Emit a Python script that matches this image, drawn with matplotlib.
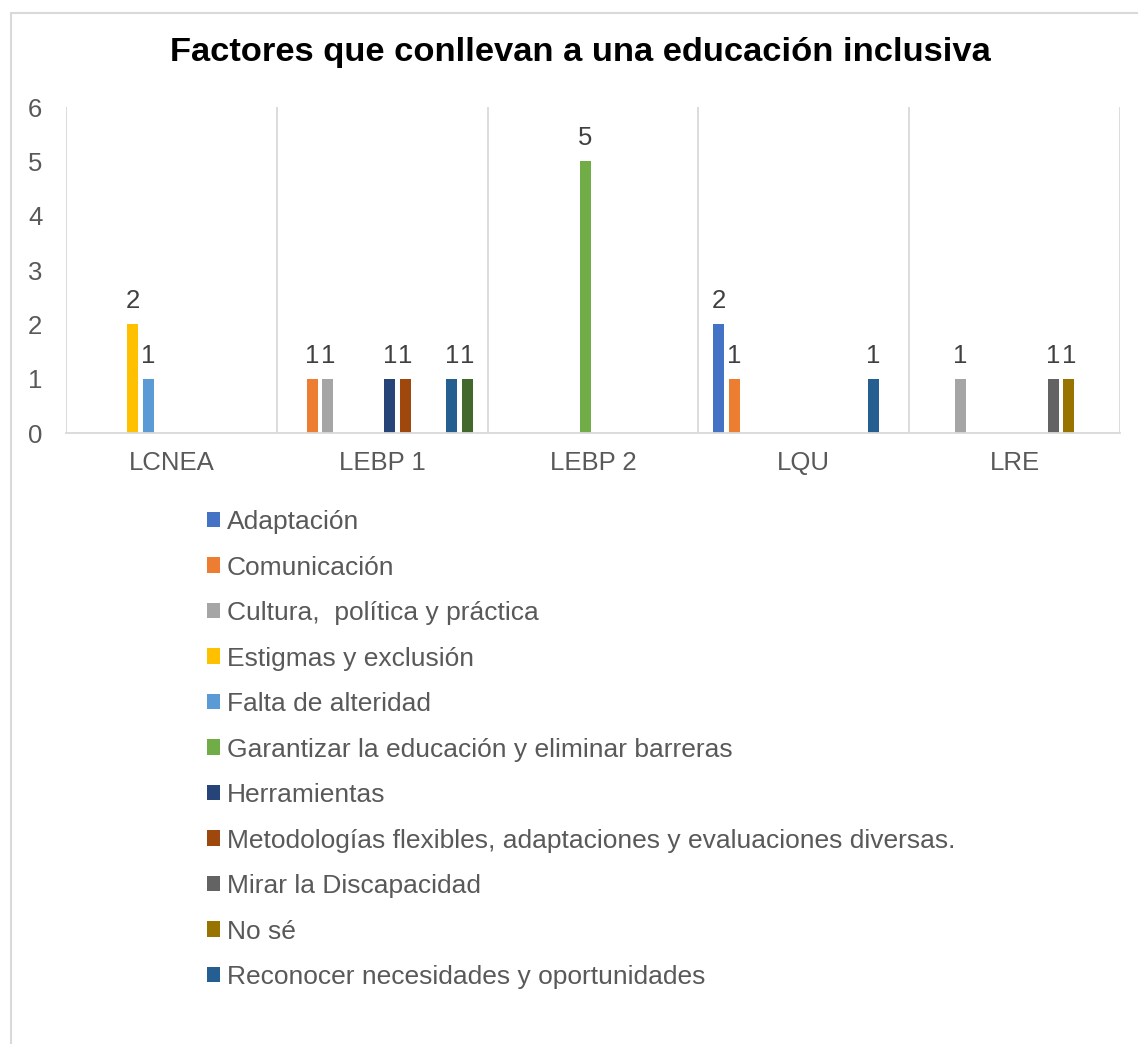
import matplotlib
matplotlib.use("Agg")
import matplotlib.pyplot as plt
import numpy as np
from matplotlib.patches import Rectangle

plt.rcParams['font.family'] = ['Liberation Sans', 'DejaVu Sans']

categories = ["LCNEA", "LEBP 1", "LEBP 2", "LQU", "LRE"]
series_names = [
    "Adaptación",
    "Comunicación",
    "Cultura,  política y práctica",
    "Estigmas y exclusión",
    "Falta de alteridad",
    "Garantizar la educación y eliminar barreras",
    "Herramientas",
    "Metodologías flexibles, adaptaciones y evaluaciones diversas.",
    "Mirar la Discapacidad",
    "No sé",
    "Reconocer necesidades y oportunidades",
    "Serie 12",
]
in_legend = [True] * 11 + [False]
adaptacion = [0, 0, 0, 2, 0]
comunicacion = [0, 1, 0, 1, 0]
cultura = [0, 1, 0, 0, 1]
estigmas = [2, 0, 0, 0, 0]
falta = [1, 0, 0, 0, 0]
garantizar = [0, 0, 5, 0, 0]
herramientas = [0, 1, 0, 0, 0]
metodologias = [0, 1, 0, 0, 0]
mirar = [0, 0, 0, 0, 1]
no_se = [0, 0, 0, 0, 1]
reconocer = [0, 1, 0, 1, 0]
serie12 = [0, 1, 0, 0, 0]
values = [adaptacion, comunicacion, cultura, estigmas, falta, garantizar,
          herramientas, metodologias, mirar, no_se, reconocer, serie12]
colors = ["#4472C4", "#ED7D31", "#A5A5A5", "#FFC000", "#5B9BD5", "#70AD47",
          "#264478", "#9E480E", "#636363", "#997300", "#255E91", "#43682B"]

W, H = 1138, 1044
fig = plt.figure(figsize=(W / 100, H / 100), dpi=100)
ax = fig.add_axes([66 / W, 1 - 433 / H, (1120 - 66) / W, (433 - 107) / H])

x = np.arange(len(categories))
n = len(values)
step = 0.0735
bw = 0.052
handles = []
for i, (name, vals, c) in enumerate(zip(series_names, values, colors)):
    off = (i - (n - 1) / 2) * step
    bars = ax.bar(x + off, vals, width=bw, color=c,
                  label=name if in_legend[i] else "_" + name)
    labels = [str(v) if v != 0 else "" for v in vals]
    ax.bar_label(bars, labels=labels, padding=8, fontsize=18.5, color="#404040")
    if in_legend[i]:
        handles.append(bars)

ax.set_xlim(-0.5, len(categories) - 0.5)
ax.set_ylim(0, 6)
ax.set_yticks(range(0, 7))
ax.set_xticks(x)
ax.set_xticklabels(categories)
ax.set_xticks(np.arange(-0.5, len(categories), 1.0), minor=True)
ax.tick_params(axis='both', which='both', length=0, labelsize=18.5, labelcolor="#595959")
ax.tick_params(axis='y', pad=17)
ax.tick_params(axis='x', pad=13)
ax.grid(which='minor', axis='x', color="#D9D9D9", linewidth=1.3)
ax.set_axisbelow(True)
for s in ['top', 'right', 'left']:
    ax.spines[s].set_visible(False)
ax.spines['bottom'].set_color("#D9D9D9")
ax.spines['bottom'].set_linewidth(1.3)
for line in ax.get_xgridlines():
    line.set_clip_on(False)

fig.text(580 / W, 1 - 53 / H, "Factores que conllevan a una educación inclusiva",
         ha='center', va='center', fontsize=24.8, fontweight='bold', color="#000000")

leg = fig.legend(handles=handles, loc='upper left',
                 bbox_to_anchor=(206.5 / W, 1 - 510 / H), frameon=False,
                 fontsize=19, labelcolor="#595959", handlelength=0.53,
                 handleheight=0.53, handletextpad=0.25, labelspacing=0.815,
                 borderpad=0, borderaxespad=0)

fig.patches.append(Rectangle((11 / W, -0.1), 1.2, 1 - 13 / H + 0.1,
                             transform=fig.transFigure, fill=False,
                             edgecolor="#D9D9D9", linewidth=1.5))

fig.savefig("out.png", dpi=100)
